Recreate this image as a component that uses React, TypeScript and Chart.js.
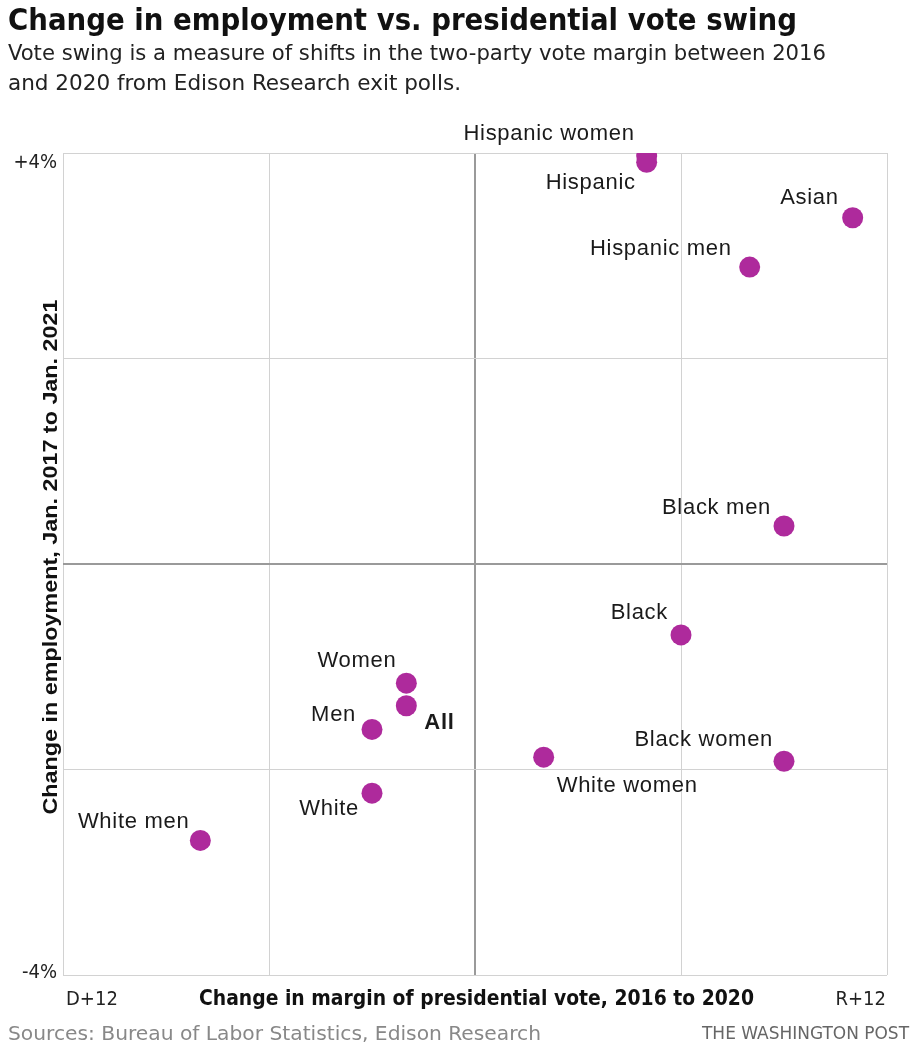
import React, { useEffect, useRef } from 'react';
import { Chart, registerables } from 'chart.js';

Chart.register(...registerables);

// ---- Data ----
const groups = [
  'Hispanic women', 'Hispanic', 'Asian', 'Hispanic men', 'Black men', 'Black',
  'Women', 'All', 'Men', 'White women', 'Black women', 'White', 'White men',
];
// Change in margin of presidential vote 2016->2020 (negative = toward D, positive = toward R)
const voteSwing = [5, 5, 11, 8, 9, 6, -2, -2, -3, 2, 9, -3, -8];
// Change in employment, Jan. 2017 to Jan. 2021 (%)
const employmentChange = [3.97, 3.91, 3.37, 2.89, 0.37, -0.69, -1.16, -1.38, -1.61, -1.88, -1.92, -2.23, -2.69];

const xTickLabels = ['D+12', 'R+12'];
const yTickLabels = ['+4%', '-4%'];

const titleText = 'Change in employment vs. presidential vote swing';
const subtitleLines = [
  'Vote swing is a measure of shifts in the two-party vote margin between 2016',
  'and 2020 from Edison Research exit polls.',
];
const xAxisTitle = 'Change in margin of presidential vote, 2016 to 2020';
const yAxisTitle = 'Change in employment, Jan. 2017 to Jan. 2021';
const sourceText = 'Sources: Bureau of Labor Statistics, Edison Research';
const creditText = 'THE WASHINGTON POST';

// label placement relative to each point (style, not data)
const labelPlacement: { align: CanvasTextAlign; dx: number; dy: number; bold?: boolean }[] = [
  { align: 'right', dx: -12, dy: -16 },
  { align: 'right', dx: -11, dy: 27 },
  { align: 'right', dx: -14, dy: -14 },
  { align: 'right', dx: -18, dy: -12 },
  { align: 'right', dx: -13, dy: -12 },
  { align: 'right', dx: -13, dy: -16 },
  { align: 'right', dx: -10, dy: -16 },
  { align: 'left', dx: 18, dy: 23, bold: true },
  { align: 'right', dx: -16, dy: -8 },
  { align: 'left', dx: 13, dy: 35 },
  { align: 'right', dx: -11, dy: -15 },
  { align: 'right', dx: -13, dy: 22 },
  { align: 'right', dx: -11, dy: -12 },
];

const COND = '"Liberation Sans Narrow", "DejaVu Sans Condensed", "Liberation Sans", sans-serif';
const SANS = '"Liberation Sans", Arial, sans-serif';

function fitText(
  ctx: CanvasRenderingContext2D, text: string, x: number, y: number,
  font: string, width: number, align: CanvasTextAlign, color: string, rotate = 0,
) {
  ctx.save();
  ctx.font = font;
  ctx.fillStyle = color;
  ctx.textBaseline = 'alphabetic';
  ctx.textAlign = align;
  const w = ctx.measureText(text).width;
  ctx.translate(x, y);
  if (rotate) ctx.rotate(rotate);
  ctx.scale(width / w, 1);
  ctx.fillText(text, 0, 0);
  ctx.restore();
}

const decorations = {
  id: 'decorations',
  afterDraw(chart: any) {
    const ctx: CanvasRenderingContext2D = chart.ctx;
    const xs = chart.scales.x;
    const ys = chart.scales.y;
    const area = chart.chartArea;

    // header
    fitText(ctx, titleText, 8, 30, `bold 30px ${COND}`, 789, 'left', '#111');
    fitText(ctx, subtitleLines[0], 8, 60, `22px ${COND}`, 818, 'left', '#222');
    fitText(ctx, subtitleLines[1], 8, 90, `22px ${COND}`, 453, 'left', '#222');

    // y tick labels
    ctx.save();
    ctx.font = `20px ${COND}`;
    ctx.fillStyle = '#222';
    ctx.textAlign = 'right';
    ctx.textBaseline = 'alphabetic';
    ctx.fillText(yTickLabels[0], area.left - 6, ys.getPixelForValue(4) + 15);
    ctx.fillText(yTickLabels[1], area.left - 6, ys.getPixelForValue(-4) + 3);
    // x tick labels
    ctx.textAlign = 'left';
    ctx.fillText(xTickLabels[0], xs.getPixelForValue(-12) + 3, area.bottom + 30);
    ctx.textAlign = 'right';
    ctx.fillText(xTickLabels[1], xs.getPixelForValue(12) - 1, area.bottom + 30);
    ctx.restore();

    // axis titles
    fitText(ctx, xAxisTitle, 199, area.bottom + 30, `bold 21px ${COND}`, 555, 'left', '#111');
    fitText(ctx, yAxisTitle, 57, 557, `bold 20px ${SANS}`, 515, 'center', '#111', -Math.PI / 2);

    // point labels
    const meta = chart.getDatasetMeta(0);
    ctx.save();
    ctx.fillStyle = '#1a1a1a';
    ctx.textBaseline = 'alphabetic';
    (ctx as any).letterSpacing = '0.7px';
    meta.data.forEach((pt: any, i: number) => {
      const p = labelPlacement[i];
      ctx.font = `${p.bold ? 'bold ' : ''}22px ${SANS}`;
      ctx.textAlign = p.align;
      ctx.fillText(groups[i], pt.x + p.dx, pt.y + p.dy);
    });
    ctx.restore();

    // footer
    fitText(ctx, sourceText, 8, 1040, `20px ${COND}`, 533, 'left', '#888');
    fitText(ctx, creditText, 909, 1039, `17px ${COND}`, 207, 'right', '#666');
  },
};

export default function App() {
  const ref = useRef<HTMLCanvasElement | null>(null);

  useEffect(() => {
    if (!ref.current) return;
    const gridColor = (c: any) => (c.tick && c.tick.value === 0 ? '#9a9a9a' : '#d2d2d2');
    const gridWidth = (c: any) => (c.tick && c.tick.value === 0 ? 2 : 1);
    const chart = new Chart(ref.current, {
      type: 'scatter',
      data: {
        datasets: [
          {
            label: 'Groups',
            data: voteSwing.map((v, i) => ({ x: v, y: employmentChange[i] })),
            backgroundColor: '#ae2a9c',
            borderWidth: 0,
            pointRadius: 10.5,
            pointHoverRadius: 10.5,
          },
        ],
      },
      options: {
        responsive: false,
        animation: false,
        devicePixelRatio: 1,
        layout: { padding: { left: 63, top: 153, right: 29, bottom: 75 } },
        plugins: { legend: { display: false }, tooltip: { enabled: false }, title: { display: false } },
        scales: {
          x: {
            type: 'linear',
            min: -12,
            max: 12,
            ticks: { stepSize: 6, display: false },
            grid: { color: gridColor, lineWidth: gridWidth, drawTicks: false },
            border: { display: false },
          },
          y: {
            type: 'linear',
            min: -4,
            max: 4,
            ticks: { stepSize: 2, display: false },
            grid: { color: gridColor, lineWidth: gridWidth, drawTicks: false },
            border: { display: false },
          },
        },
      },
      plugins: [decorations],
    });
    return () => chart.destroy();
  }, []);

  return (
    <div style={{ position: 'absolute', left: 0, top: 0, width: 916, height: 1050, background: '#fff' }}>
      <canvas ref={ref} width={916} height={1050} style={{ width: 916, height: 1050, display: 'block' }} />
    </div>
  );
}
